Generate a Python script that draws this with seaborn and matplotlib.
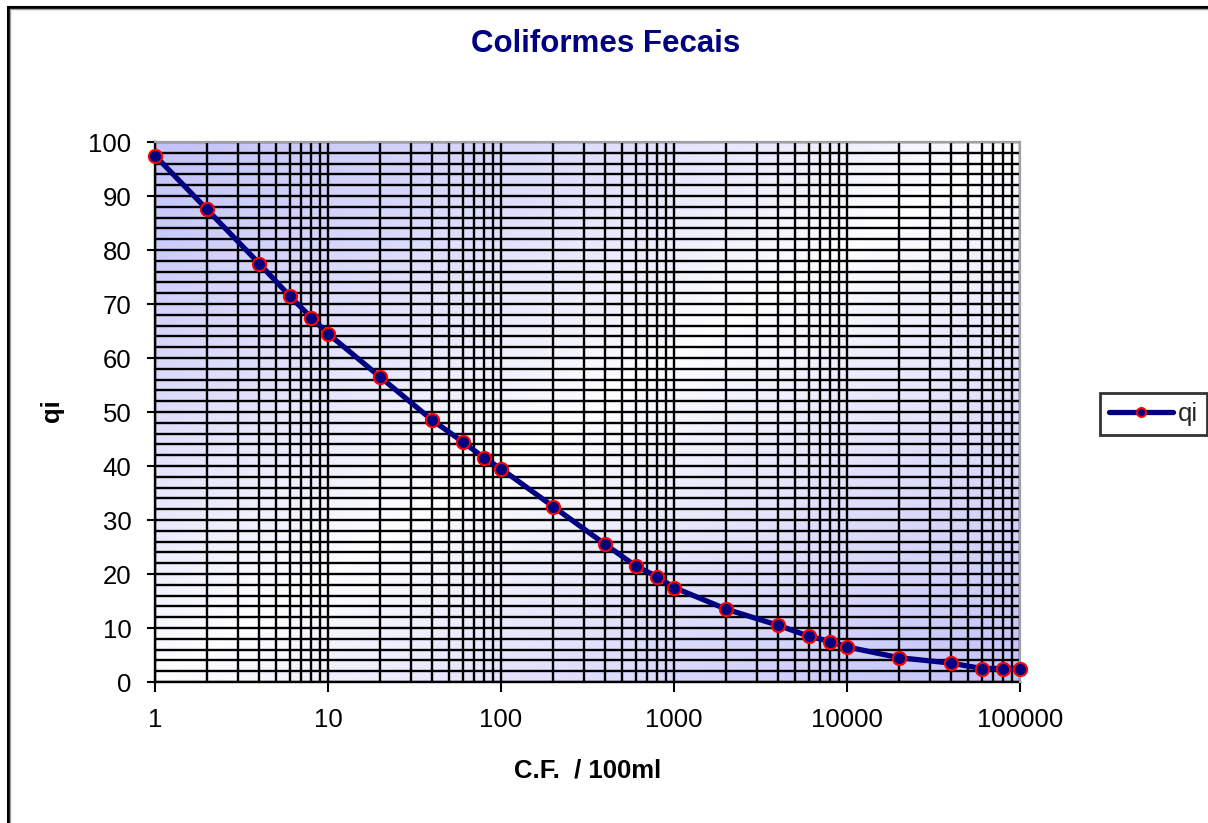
import numpy as np
import pandas as pd
import matplotlib
matplotlib.use("Agg")
import matplotlib.pyplot as plt
from matplotlib.ticker import LogLocator, FixedLocator, FuncFormatter, NullFormatter
from matplotlib.lines import Line2D
from matplotlib.patches import Rectangle
import seaborn as sns

# Faecal coliform count per 100 ml and the corresponding quality index qi
cf_100ml = [1, 2, 4, 6, 8, 10, 20, 40, 60, 80, 100, 200, 400, 600, 800, 1000,
            2000, 4000, 6000, 8000, 10000, 20000, 40000, 60000, 80000, 100000]
qi = [97.5, 87.5, 77.5, 71.5, 67.5, 64.5, 56.5, 48.5, 44.5, 41.5, 39.5, 32.5,
      25.5, 21.5, 19.5, 17.5, 13.5, 10.5, 8.5, 7.5, 6.5, 4.5, 3.5, 2.5, 2.5, 2.5]
x_ticks = [1, 10, 100, 1000, 10000, 100000]
y_ticks = list(range(0, 101, 10))

title = "Coliformes Fecais"
x_label = "C.F.  / 100ml"
y_label = "qi"
series_name = "qi"

df = pd.DataFrame({"cf": cf_100ml, "qi": qi})

sns.set_theme(style="white")
plt.rcParams["font.family"] = ["Liberation Sans", "DejaVu Sans"]

W, H = 1208, 823
fig = plt.figure(figsize=(W / 100, H / 100), dpi=100)
fig.patch.set_facecolor("white")

# Plot area geometry (figure fractions)
left, right = 155 / W, 1020 / W
bottom, top = 1 - 682 / H, 1 - 142 / H
pos = [left, bottom, right - left, top - bottom]

# Diagonal lavender-white-lavender background for the plot area
bg = fig.add_axes(pos, zorder=0)
gw, gh = 400, 300
u = np.linspace(0, 1, gw)[None, :]
v = np.linspace(1, 0, gh)[:, None]
d = np.clip(np.abs(v - u), 0, 1) ** 0.85
blue = np.array([194, 194, 250]) / 255.0
img = (1 - d)[..., None] * np.array([1.0, 1.0, 1.0]) + d[..., None] * blue
bg.imshow(img, aspect="auto", extent=(0, 1, 0, 1), interpolation="bilinear")
bg.set_axis_off()

ax = fig.add_axes(pos, zorder=1)
ax.set_facecolor("none")

sns.lineplot(data=df, x="cf", y="qi", ax=ax, color="#000080", linewidth=3.8,
             marker="o", markersize=9.5, markerfacecolor="#000080",
             markeredgecolor="#ff0000", markeredgewidth=1.5,
             clip_on=False, zorder=5, legend=False)

ax.set_xscale("log")
ax.set_xlim(1, 100000)
ax.set_ylim(0, 100)

ax.xaxis.set_major_locator(FixedLocator(x_ticks))
ax.xaxis.set_minor_locator(LogLocator(base=10, subs=range(2, 10), numticks=20))
ax.xaxis.set_major_formatter(FuncFormatter(lambda val, p: f"{int(round(val))}"))
ax.xaxis.set_minor_formatter(NullFormatter())
ax.yaxis.set_major_locator(FixedLocator(y_ticks))
ax.yaxis.set_minor_locator(FixedLocator(list(range(0, 101, 2))))

ax.grid(True, which="both", axis="both", color="black", linewidth=1.7)
ax.set_axisbelow(True)

ax.tick_params(axis="x", which="major", direction="out", length=7, width=1.5,
               color="black", pad=12, labelsize=18.5, labelcolor="black", bottom=True)
ax.tick_params(axis="y", which="major", direction="out", length=6, width=1.5,
               color="black", pad=11, labelsize=18.5, labelcolor="black", left=True)
ax.tick_params(which="minor", length=0)

for side in ("left", "bottom"):
    ax.spines[side].set_color("black")
    ax.spines[side].set_linewidth(1.7)
for side in ("top", "right"):
    ax.spines[side].set_color("#a0a0a0")
    ax.spines[side].set_linewidth(1.6)
    ax.spines[side].set_zorder(4)

ax.set_xlabel("")
ax.set_ylabel("")

fig.text(606 / W, 1 - 44 / H, title, ha="center", va="center",
         fontsize=22.5, fontweight="bold", color="#000080")
fig.text(588 / W, 1 - 771 / H, x_label, ha="center", va="center",
         fontsize=18.5, fontweight="bold", color="black")
fig.text(52 / W, 1 - 411 / H, y_label, ha="center", va="center", rotation=90,
         fontsize=18.5, fontweight="bold", color="black")

handle = Line2D([], [], color="#000080", linewidth=3.8, marker="o", markersize=6.5,
                markerfacecolor="#000080", markeredgecolor="#ff0000",
                markeredgewidth=1.4)
leg = fig.legend([handle], [series_name], loc="center left",
                 bbox_to_anchor=(1100 / W, 1 - 414 / H), fontsize=18.5,
                 frameon=True, fancybox=False, handlelength=2.5,
                 handletextpad=0.2, borderpad=0.35, borderaxespad=0)
leg.get_frame().set_edgecolor("black")
leg.get_frame().set_linewidth(2)

# Outer chart frame
fig.add_artist(Rectangle((8 / W, -0.05), 1.2, 1 - 7 / H + 0.05,
                         transform=fig.transFigure, fill=False,
                         edgecolor="black", linewidth=2.2, zorder=10))
fig.add_artist(Rectangle((10 / W, -0.05), 1.2, 1 - 9 / H + 0.05,
                         transform=fig.transFigure, fill=False,
                         edgecolor="#a0a0a0", linewidth=1, zorder=10))

fig.savefig("out.png", dpi=100)
